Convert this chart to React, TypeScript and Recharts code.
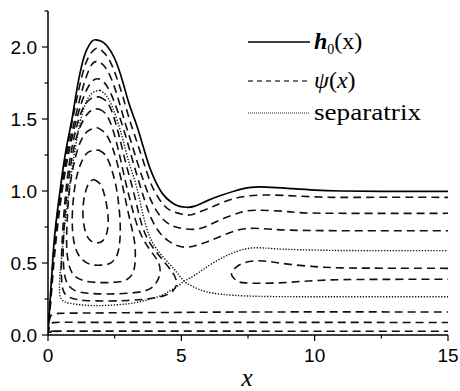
import React from 'react';
import { LineChart, Line, XAxis, YAxis } from 'recharts';

// film thickness h0(x)
const h0: number[][] = [
  [0, 0], [0.1, 0.3], [0.2, 0.58], [0.3, 0.78], [0.45, 1.0], [0.6, 1.2], [0.75, 1.36], [0.9, 1.5],
  [1.05, 1.67], [1.25, 1.86], [1.45, 1.98], [1.65, 2.04], [1.8, 2.05], [2.0, 2.04], [2.2, 2.01],
  [2.5, 1.92], [2.8, 1.76], [3.05, 1.6], [3.3, 1.47], [3.55, 1.32], [3.8, 1.17], [4.05, 1.06],
  [4.3, 0.98], [4.6, 0.925], [4.9, 0.895], [5.2, 0.887], [5.5, 0.895], [6.0, 0.935], [6.5, 0.97],
  [7.0, 1.0], [7.6, 1.025], [8.2, 1.027], [9.0, 1.018], [10, 1.006], [11, 1.0], [12.5, 0.998], [15, 0.998],
];

// open streamlines passing over the eddy
const psiA: number[][] = [
  [0, 0], [0.09, 0.25], [0.19, 0.52], [0.32, 0.78], [0.47, 1.0], [0.63, 1.2], [0.8, 1.38], [0.97, 1.54],
  [1.15, 1.7], [1.35, 1.85], [1.55, 1.94], [1.8, 1.99], [2.05, 1.97], [2.3, 1.91], [2.55, 1.8],
  [2.8, 1.66], [3.05, 1.5], [3.3, 1.36], [3.55, 1.22], [3.8, 1.08], [4.05, 0.98], [4.35, 0.9],
  [4.65, 0.86], [5.0, 0.84], [5.3, 0.833], [5.6, 0.85], [6.1, 0.885], [6.6, 0.925], [7.3, 0.96],
  [8.4, 0.972], [10.2, 0.958], [12, 0.956], [15, 0.956],
];
const psiB: number[][] = [
  [0, 0], [0.1, 0.25], [0.21, 0.52], [0.34, 0.77], [0.5, 1.0], [0.67, 1.2], [0.85, 1.37], [1.05, 1.53],
  [1.25, 1.68], [1.45, 1.8], [1.65, 1.88], [1.85, 1.9], [2.1, 1.87], [2.35, 1.79], [2.6, 1.66],
  [2.85, 1.5], [3.1, 1.35], [3.35, 1.2], [3.6, 1.06], [3.85, 0.94], [4.15, 0.84], [4.5, 0.775],
  [4.9, 0.745], [5.5, 0.734], [6.0, 0.76], [6.6, 0.81], [7.2, 0.85], [7.8, 0.866], [9.0, 0.857],
  [10.2, 0.846], [15, 0.845],
];
const psiC: number[][] = [
  [0, 0], [0.11, 0.25], [0.23, 0.52], [0.37, 0.77], [0.53, 1.0], [0.71, 1.2], [0.9, 1.37], [1.12, 1.53],
  [1.35, 1.66], [1.6, 1.75], [1.85, 1.78], [2.1, 1.755], [2.35, 1.68], [2.6, 1.56], [2.85, 1.42],
  [3.1, 1.26], [3.35, 1.1], [3.6, 0.95], [3.85, 0.82], [4.15, 0.72], [4.5, 0.655], [4.9, 0.618],
  [5.25, 0.61], [5.6, 0.625], [6.0, 0.65], [6.6, 0.695], [7.4, 0.738], [8.4, 0.734], [10.2, 0.725],
  [15, 0.724],
];

// closed streamlines inside the eddy
const loop1: number[][] = [
  [1.72, 1.08], [1.95, 1.05], [2.12, 0.97], [2.24, 0.85], [2.24, 0.74], [2.08, 0.66], [1.8, 0.64],
  [1.52, 0.67], [1.35, 0.76], [1.31, 0.88], [1.4, 0.99], [1.55, 1.06], [1.72, 1.08],
];
const loop2: number[][] = [
  [1.9, 1.285], [2.15, 1.25], [2.35, 1.17], [2.52, 1.06], [2.63, 0.94], [2.7, 0.8], [2.7, 0.67],
  [2.6, 0.56], [2.35, 0.5], [2.0, 0.485], [1.6, 0.49], [1.25, 0.53], [1.02, 0.61], [0.92, 0.73],
  [0.92, 0.87], [1.0, 1.02], [1.15, 1.15], [1.4, 1.25], [1.65, 1.28], [1.9, 1.285],
];
const loop3: number[][] = [
  [1.85, 1.44], [2.15, 1.4], [2.4, 1.31], [2.6, 1.19], [2.78, 1.05], [2.95, 0.9], [3.12, 0.76],
  [3.25, 0.64], [3.27, 0.52], [3.18, 0.43], [2.9, 0.38], [2.4, 0.365], [1.8, 0.365], [1.3, 0.38],
  [0.95, 0.42], [0.77, 0.5], [0.7, 0.62], [0.72, 0.8], [0.8, 1.0], [0.95, 1.17], [1.15, 1.31],
  [1.45, 1.41], [1.85, 1.44],
];
const loop4: number[][] = [
  [1.9, 1.57], [2.15, 1.54], [2.37, 1.46], [2.55, 1.35], [2.72, 1.22], [2.9, 1.07], [3.1, 0.92],
  [3.35, 0.76], [3.65, 0.64], [3.95, 0.56], [4.15, 0.5], [4.2, 0.43], [4.05, 0.36], [3.7, 0.31],
  [3.0, 0.29], [2.2, 0.285], [1.5, 0.29], [1.0, 0.31], [0.72, 0.36], [0.6, 0.45], [0.57, 0.6],
  [0.62, 0.8], [0.72, 1.0], [0.87, 1.2], [1.08, 1.38], [1.35, 1.5], [1.62, 1.56], [1.9, 1.57],
];
const loop5: number[][] = [
  [1.92, 1.655], [2.2, 1.62], [2.42, 1.54], [2.6, 1.43], [2.75, 1.32], [2.95, 1.17], [3.2, 1.0],
  [3.45, 0.81], [3.7, 0.68], [4.0, 0.59], [4.35, 0.51], [4.65, 0.44], [4.82, 0.37], [4.7, 0.31],
  [4.3, 0.27], [3.7, 0.25], [3.0, 0.24], [2.2, 0.236], [1.4, 0.24], [0.9, 0.255], [0.62, 0.29],
  [0.52, 0.36], [0.5, 0.48], [0.53, 0.65], [0.6, 0.85], [0.7, 1.05], [0.85, 1.25], [1.05, 1.43],
  [1.3, 1.57], [1.6, 1.64], [1.92, 1.655],
];

// downstream recirculating streamline
const eddyRight: number[][] = [
  [15, 0.463], [12.5, 0.464], [11, 0.466], [10, 0.475], [9.0, 0.492], [8.3, 0.51], [7.8, 0.515],
  [7.35, 0.5], [7.05, 0.47], [6.88, 0.425], [7.05, 0.38], [7.4, 0.362], [8.4, 0.36], [9.5, 0.372],
  [10.5, 0.382], [12, 0.386], [15, 0.387],
];

// streamlines near the bottom
const low1: number[][] = [[0, 0], [0.05, 0.1], [0.15, 0.14], [0.4, 0.15], [1, 0.152], [3, 0.155], [5, 0.157], [8, 0.16], [15, 0.16]];
const low2: number[][] = [[0, 0], [0.05, 0.06], [0.2, 0.086], [1, 0.088], [5, 0.088], [15, 0.087]];
const low3: number[][] = [[0, 0], [0.05, 0.02], [0.2, 0.026], [1, 0.027], [15, 0.026]];

// separatrix: branch around the left/bottom of the eddy, then up to the upper downstream branch
const sepA: number[][] = [
  [1.95, 1.7], [1.6, 1.67], [1.32, 1.56], [1.1, 1.38], [0.9, 1.15], [0.75, 0.95], [0.62, 0.75],
  [0.52, 0.56], [0.45, 0.42], [0.43, 0.32], [0.5, 0.25], [0.82, 0.22], [1.4, 0.207], [1.95, 0.204],
  [2.6, 0.21], [3.2, 0.222], [3.7, 0.243], [4.19, 0.27], [4.6, 0.31], [4.94, 0.35], [5.1, 0.375],
  [5.32, 0.395], [5.7, 0.44], [6.1, 0.49], [6.57, 0.54], [7.0, 0.575], [7.57, 0.603], [8.2, 0.603],
  [8.81, 0.596], [10.2, 0.589], [12, 0.586], [15, 0.586],
];
// separatrix: branch down the right of the eddy, then the lower downstream branch
const sepB: number[][] = [
  [1.95, 1.7], [2.2, 1.66], [2.42, 1.58], [2.63, 1.47], [2.82, 1.35], [3.05, 1.19], [3.32, 1.03],
  [3.57, 0.83], [3.8, 0.69], [4.1, 0.59], [4.57, 0.49], [4.85, 0.43], [5.1, 0.375], [5.35, 0.345],
  [5.69, 0.315], [6.2, 0.29], [6.94, 0.276], [8, 0.268], [10, 0.266], [15, 0.266],
];

const xTicks = [0, 2.5, 5, 7.5, 10, 12.5, 15];
const yTicks = [0, 0.25, 0.5, 0.75, 1, 1.25, 1.5, 1.75, 2, 2.25];

const toPts = (a: number[][]) => a.map(([x, y]) => ({ x, y }));

const dashedSeries = [psiA, psiB, psiC, loop1, loop2, loop3, loop4, loop5, eddyRight, low1, low2, low3];
const dottedSeries = [sepA, sepB];

const labelFont = 'Arial, "Liberation Sans", sans-serif';
const serif = '"Times New Roman", "Liberation Serif", serif';

const isMajorX = (v: number) => Math.abs(v % 5) < 1e-9;
const isMajorY = (v: number) => Math.abs((v * 2) % 1) < 1e-9;

const BottomTick = (p: any) => {
  const { x, y, payload } = p;
  const v = payload.value;
  const major = isMajorX(v);
  return (
    <g>
      <line x1={x} y1={y} x2={x} y2={y + (major ? 6 : 3.5)} stroke="#000" strokeWidth={1.2} />
      {major && (
        <text x={x} y={y + 27} textAnchor="middle" fontFamily={labelFont} fontSize={19} fill="#000">
          {v}
        </text>
      )}
    </g>
  );
};
const TopTick = (p: any) => {
  const { x, y, payload } = p;
  const major = isMajorX(payload.value);
  return <line x1={x} y1={y} x2={x} y2={y + (major ? 6 : 3.5)} stroke="#000" strokeWidth={1.2} />;
};
const LeftTick = (p: any) => {
  const { x, y, payload } = p;
  const v = payload.value;
  const major = isMajorY(v);
  return (
    <g>
      <line x1={x} y1={y} x2={x - (major ? 6 : 3.5)} y2={y} stroke="#000" strokeWidth={1.2} />
      {major && (
        <text x={x - 11} y={y + 7} textAnchor="end" fontFamily={labelFont} fontSize={19} fill="#000">
          {v.toFixed(1)}
        </text>
      )}
    </g>
  );
};
const RightTick = (p: any) => {
  const { x, y, payload } = p;
  const major = isMajorY(payload.value);
  return <line x1={x} y1={y} x2={x - (major ? 6 : 3.5)} y2={y} stroke="#000" strokeWidth={1.2} />;
};

export default function App() {
  return (
    <div style={{ position: 'absolute', left: 0, top: 0, width: 460, height: 391, background: '#fff' }}>
      <LineChart width={460} height={391} margin={{ top: 11, right: 12, bottom: 0, left: 0 }}>
        <XAxis
          dataKey="x"
          type="number"
          domain={[0, 15]}
          ticks={xTicks}
          interval={0}
          height={56}
          tickSize={0}
          tickMargin={0}
          tickLine={false}
          tick={<BottomTick />}
          axisLine={{ stroke: '#000', strokeWidth: 1.5 }}
          allowDataOverflow
        />
        <XAxis
          xAxisId="top"
          orientation="top"
          dataKey="x"
          type="number"
          domain={[0, 15]}
          ticks={xTicks}
          interval={0}
          height={0}
          tickSize={0}
          tickMargin={0}
          tickLine={false}
          tick={<TopTick />}
          axisLine={{ stroke: '#000', strokeWidth: 1.5 }}
          allowDataOverflow
        />
        <YAxis
          type="number"
          domain={[0, 2.25]}
          ticks={yTicks}
          interval={0}
          width={48}
          tickSize={0}
          tickMargin={0}
          tickLine={false}
          tick={<LeftTick />}
          axisLine={{ stroke: '#000', strokeWidth: 1.5 }}
          allowDataOverflow
        />
        <YAxis
          yAxisId="right"
          orientation="right"
          type="number"
          domain={[0, 2.25]}
          ticks={yTicks}
          interval={0}
          width={0}
          tickSize={0}
          tickMargin={0}
          tickLine={false}
          tick={<RightTick />}
          axisLine={{ stroke: '#000', strokeWidth: 1.5 }}
          allowDataOverflow
        />
        {dashedSeries.map((s, i) => (
          <Line
            key={'d' + i}
            data={toPts(s)}
            dataKey="y"
            type="natural"
            stroke="#111"
            strokeWidth={1.6}
            strokeDasharray="8 5"
            dot={false}
            activeDot={false}
            isAnimationActive={false}
          />
        ))}
        {dottedSeries.map((s, i) => (
          <Line
            key={'s' + i}
            data={toPts(s)}
            dataKey="y"
            type="natural"
            stroke="#111"
            strokeWidth={1.4}
            strokeDasharray="1.3 1.6"
            dot={false}
            activeDot={false}
            isAnimationActive={false}
          />
        ))}
        <Line
          data={toPts(h0)}
          dataKey="y"
          type="natural"
          stroke="#000"
          strokeWidth={1.7}
          dot={false}
          activeDot={false}
          isAnimationActive={false}
        />
      </LineChart>
      <svg
        width={460}
        height={391}
        style={{ position: 'absolute', left: 0, top: 0, pointerEvents: 'none' }}
      >
        <line x1={248} y1={42} x2={310} y2={42} stroke="#000" strokeWidth={1.3} />
        <text x={314} y={49} fontFamily={serif} fontSize={24} fill="#000">
          <tspan fontStyle="italic" fontWeight="bold">h</tspan>
          <tspan fontSize={14} dy={5}>0</tspan>
          <tspan dy={-5}>(x)</tspan>
        </text>
        <line x1={248} y1={81} x2={310} y2={81} stroke="#444" strokeWidth={1.3} strokeDasharray="5 4" />
        <text x={314} y={88} fontFamily={serif} fontSize={24} fill="#000">
          <tspan fontStyle="italic">ψ</tspan>
          <tspan>(</tspan>
          <tspan fontStyle="italic">x</tspan>
          <tspan>)</tspan>
        </text>
        <line x1={248} y1={113} x2={310} y2={113} stroke="#222" strokeWidth={1.2} strokeDasharray="1 1" />
        <text x={314} y={120} fontFamily={serif} fontSize={24} fill="#000" textLength={107} lengthAdjust="spacingAndGlyphs">
          separatrix
        </text>
        <text x={247} y={386} textAnchor="middle" fontFamily={serif} fontStyle="italic" fontSize={25} fill="#000">
          x
        </text>
      </svg>
    </div>
  );
}
